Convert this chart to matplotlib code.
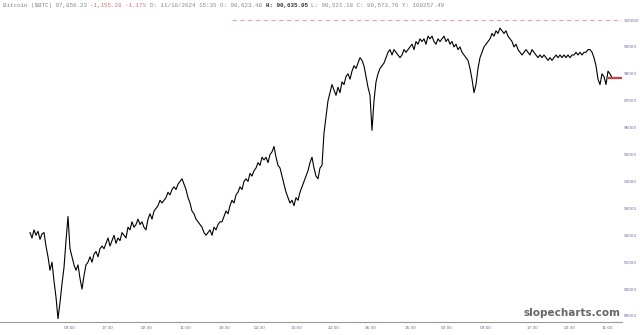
import numpy as np
import matplotlib.pyplot as plt

prices = [
    92100, 91900, 92200, 92000, 92150, 91850, 92050, 92100,
    91600, 91200, 90700, 91000, 90300, 89700,
    88900, 89500, 90200, 90800,
    91800, 92700, 91500,
    91200, 90900, 90700, 90900, 90400,
    90000, 90500,
    90900, 91000, 91200, 91000, 91300, 91400, 91200, 91500, 91600,
    91500, 91700, 91900, 91600, 91800, 92000, 91700, 91900, 91800, 92100,
    92000, 91900, 92300, 92200, 92500, 92300, 92400, 92600, 92400, 92500,
    92300, 92200, 92600, 92800, 92600, 92900, 93000, 93100, 93300, 93200,
    93300, 93400, 93600, 93500, 93700, 93800, 93700, 93900, 94000, 94100,
    93900, 93700, 93400, 93200, 92900, 92800, 92600, 92500, 92400, 92300,
    92100, 92000, 92100, 92200, 92000, 92300, 92200, 92400, 92500, 92500,
    92700, 92900, 92800, 93100, 93300, 93200, 93500, 93600, 93800, 93700,
    94000, 94100, 94000, 94300, 94200, 94400, 94500, 94700, 94600, 94900,
    94800, 94900, 94700, 95000, 95100, 95300, 94900, 94600, 94500, 94200,
    93900, 93600, 93400, 93200, 93300, 93100, 93400, 93300, 93600, 93800,
    94000, 94200, 94400, 94700, 94900, 94500, 94200, 94100, 94500, 94600,
    95800, 96400, 97000, 97300, 97600, 97400, 97200, 97500, 97300, 97700,
    97600, 97900, 98000, 97800, 98100, 98300, 98200, 98400, 98600, 98500,
    98300, 97900, 97500, 97200, 95900, 97000, 97700, 98000, 98200, 98300,
    98400, 98600, 98800, 98900, 98700, 98900, 98800, 98700, 98600, 98700,
    98900, 98800, 98900, 99000, 99100, 98900, 99200, 99100, 99300, 99200,
    99300, 99100, 99400, 99300, 99400, 99200, 99100, 99300, 99200, 99300,
    99400, 99200, 99300, 99100, 99200, 99000, 99100, 98900, 99000, 98800,
    98700, 98600, 98500, 98200, 97800, 97300, 97600, 98200, 98600, 98800,
    99000, 99100, 99200, 99300, 99500, 99400, 99600, 99500, 99700, 99600,
    99500, 99600, 99400, 99300, 99200, 99000, 99100, 98900, 98800, 98700,
    98800, 98900, 98800, 98700, 98900, 98800, 98700, 98600, 98700, 98600,
    98700, 98600, 98500, 98600, 98500, 98600, 98700, 98600, 98700, 98600,
    98700, 98600, 98700, 98600, 98700, 98700, 98800, 98700, 98800, 98700,
    98800, 98800, 98900, 98900, 98800, 98600, 98300, 97800, 97600, 98000,
    97900, 97600, 98100, 98000, 97856,
]
tick_pos = [20, 38.5, 58.5, 77.5, 97, 115, 133, 152, 170.5, 190, 208.5, 228, 251, 270, 288.5]
tick_labels = ['09:00', '17:30', '02:30', '11:00', '19:30', '04:30', '13:00', '22:00',
               '06:30', '15:30', '00:00', '09:00', '17:30', '02:30', '11:00']
y_ticks = list(range(89000, 100001, 1000))
last_price = 97856.23
prev_high = 100000

fig = plt.figure(figsize=(6.4, 3.35), dpi=100)
ax = fig.add_axes([0, 13 / 335, 622 / 640, 308 / 335])

x = np.arange(len(prices))
ax.plot(x, prices, color='black', lw=0.8)
ax.hlines(last_price, len(prices) - 3, 296, color='#d04040', lw=1.6)
ax.hlines(prev_high, 101, 296, color='#f2a0a0', lw=0.8, linestyles=(0, (4, 3)))

ax.set_xlim(-15, 296)
ax.set_ylim(88777, 100223)
ax.set_xticks(tick_pos)
ax.set_xticklabels(tick_labels)
ax.set_yticks(y_ticks)
ax.yaxis.tick_right()
ax.tick_params(length=0, labelsize=3.0, labelcolor='#6a6aa8', pad=3)
ax.tick_params(axis='y', pad=1.5)
for s in ['top', 'left', 'right']:
    ax.spines[s].set_visible(False)
ax.spines['bottom'].set_color('#999999')
ax.spines['bottom'].set_linewidth(0.8)

# header line, monospace pieces
fs = 4.2
cw = 0.6 * fs * 100 / 72
pieces = [
    ('Bitcoin ($BTC) 97,856.23 ', '#888888', 'normal'),
    ('-1,155.28 -1.17% ', '#e07070', 'normal'),
    ('D: 11/18/2024 15:35 O: 90,623.48 ', '#888888', 'normal'),
    ('H: 90,635.05 ', '#333333', 'bold'),
    ('L: 90,521.18 C: 90,573.76 Y: 100257.49', '#888888', 'normal'),
]
pos = 3
for txt, col, w in pieces:
    fig.text(pos / 640, 1 - 5 / 335, txt, fontsize=fs, color=col, weight=w,
             family='Liberation Mono', va='center', ha='left')
    pos += len(txt) * cw

fig.text(572 / 640, 1 - 313 / 335, 'slopecharts.com', fontsize=7.5, color='#666666',
         weight='bold', ha='center', va='center')

fig.savefig('out.png', dpi=100)
